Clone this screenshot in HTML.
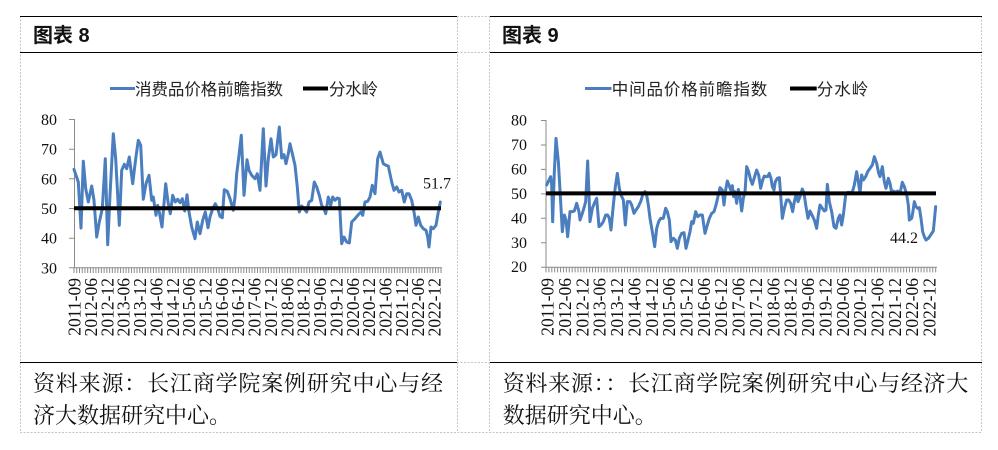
<!DOCTYPE html>
<html><head><meta charset="utf-8"><style>
html,body{margin:0;padding:0;background:#fff;}
svg{display:block;}
.ax{font-family:"Liberation Serif","Noto Serif CJK SC",serif;font-size:16px;fill:#111;}
.xl{font-family:"Liberation Serif",serif;font-size:17.5px;fill:#111;}
.lg{font-family:"Liberation Sans","Noto Sans CJK SC",sans-serif;font-size:16.5px;fill:#222;}
.hd{font-family:"Liberation Sans","Noto Sans CJK SC",sans-serif;font-size:20px;font-weight:bold;fill:#111;}
.src{font-family:"Liberation Serif","Noto Serif CJK SC",serif;font-size:22px;fill:#111;}
</style></head><body>
<svg width="998" height="450" viewBox="0 0 998 450" xmlns="http://www.w3.org/2000/svg">
<rect width="998" height="450" fill="#fff"/>
<!-- dashed grid -->
<g stroke="#c4c4c4" stroke-width="1" stroke-dasharray="2,1.5" fill="none">
<line x1="20.5" y1="16" x2="20.5" y2="432"/>
<line x1="457.5" y1="16" x2="457.5" y2="432"/>
<line x1="489.5" y1="16" x2="489.5" y2="432"/>
<line x1="981.5" y1="16" x2="981.5" y2="432"/>
<line x1="457" y1="16.5" x2="490" y2="16.5"/>
<line x1="457" y1="52.5" x2="490" y2="52.5"/>
<line x1="457" y1="362.5" x2="490" y2="362.5"/>
<line x1="20" y1="432.5" x2="982" y2="432.5"/>
</g>
<g stroke="#000" stroke-width="1">
<line x1="20" y1="16.5" x2="457" y2="16.5"/>
<line x1="490" y1="16.5" x2="982" y2="16.5"/>
<line x1="20" y1="52.5" x2="457" y2="52.5"/>
<line x1="490" y1="52.5" x2="982" y2="52.5"/>
<line x1="20" y1="362.5" x2="457" y2="362.5"/>
<line x1="490" y1="362.5" x2="982" y2="362.5"/>
</g>
<!-- headers -->
<text class="hd" x="33" y="42">图表 8</text>
<text class="hd" x="502" y="42">图表 9</text>

<!-- ===== LEFT CHART ===== -->
<line x1="110" y1="88.5" x2="135" y2="88.5" stroke="#4a7ebf" stroke-width="3"/>
<text class="lg" x="135" y="95" textLength="148" lengthAdjust="spacing">消费品价格前瞻指数</text>
<line x1="303" y1="88.5" x2="328" y2="88.5" stroke="#000" stroke-width="4"/>
<text class="lg" x="329" y="95" textLength="49" lengthAdjust="spacing">分水岭</text>

<g stroke="#8a8a8a" stroke-width="1" fill="none">
<line x1="74.5" y1="119" x2="74.5" y2="267.8"/>
<line x1="74" y1="267.8" x2="442" y2="267.8"/>
<path d="M69,119.5h5M69,149.2h5M69,178.8h5M69,208.5h5M69,238.2h5M69,267.8h5"/>
<line x1="73.5" y1="270.5" x2="442" y2="270.5" stroke-width="5" stroke-dasharray="1 1.7388"/>
</g>
<g class="ax" text-anchor="end">
<text x="57" y="125">80</text>
<text x="57" y="154.7">70</text>
<text x="57" y="184.3">60</text>
<text x="57" y="214">50</text>
<text x="57" y="243.7">40</text>
<text x="57" y="273.3">30</text>
</g>
<g class="xl" text-anchor="end">
<text transform="translate(80.6,278) rotate(-90)">2011-09</text>
<text transform="translate(96.96,278) rotate(-90)">2012-06</text>
<text transform="translate(113.33,278) rotate(-90)">2012-12</text>
<text transform="translate(129.69,278) rotate(-90)">2013-06</text>
<text transform="translate(146.06,278) rotate(-90)">2013-12</text>
<text transform="translate(162.42,278) rotate(-90)">2014-06</text>
<text transform="translate(178.78,278) rotate(-90)">2014-12</text>
<text transform="translate(195.15,278) rotate(-90)">2015-06</text>
<text transform="translate(211.51,278) rotate(-90)">2015-12</text>
<text transform="translate(227.88,278) rotate(-90)">2016-06</text>
<text transform="translate(244.24,278) rotate(-90)">2016-12</text>
<text transform="translate(260.6,278) rotate(-90)">2017-06</text>
<text transform="translate(276.97,278) rotate(-90)">2017-12</text>
<text transform="translate(293.33,278) rotate(-90)">2018-06</text>
<text transform="translate(309.7,278) rotate(-90)">2018-12</text>
<text transform="translate(326.06,278) rotate(-90)">2019-06</text>
<text transform="translate(342.42,278) rotate(-90)">2019-12</text>
<text transform="translate(358.79,278) rotate(-90)">2020-06</text>
<text transform="translate(375.15,278) rotate(-90)">2020-12</text>
<text transform="translate(391.52,278) rotate(-90)">2021-06</text>
<text transform="translate(407.88,278) rotate(-90)">2021-12</text>
<text transform="translate(424.24,278) rotate(-90)">2022-06</text>
<text transform="translate(440.61,278) rotate(-90)">2022-12</text>
</g>
<polyline fill="none" stroke="#4a7ebf" stroke-width="3" stroke-linejoin="round" stroke-linecap="round" points="74,169.3 78.3,182 81,228 83.3,161.3 85.7,188.7 88.3,202 91.7,186 94,200.3 96.7,237 99.3,222 102.3,208.7 105.3,158.7 107.7,244.7 110,195.3 113.3,133.7 115.7,158.7 119.3,225.3 121.7,170.3 124.3,164.3 126.7,168.7 129.3,157 132.7,183.7 135.7,158.7 138.3,140.3 140.7,145.3 143.3,199.3 146,183.7 149,175.3 151.7,200.3 153.3,197 156,215.3 157.7,205.3 159.3,212 162,227 165.7,183.7 168,202 170.3,213.7 172.7,195.3 175.3,202 177.7,199.3 180,202.7 182.3,198.7 184.7,211 187,194.7 189,212 191.7,227 195,238.7 197.3,222 200,233.7 202.7,220.3 205.3,212 208,227.7 210,217 212.7,208.7 215.3,203.7 217.7,208.7 220,216.3 222.3,217.7 224.3,189.7 227.3,191.3 230,198.7 233.3,210.3 235,197 236.7,173.7 239,155.3 241.3,135.3 244,195.3 247,159.7 249,170.3 251.7,175.3 255,178.7 257.3,173.7 260,190.3 263.3,128.7 266,186 268.3,158.7 271,138.7 273.3,157 276,154.7 279.3,127 281.7,158 284,154.7 286,163.7 288.3,153.7 290,143.7 292.7,155.3 295,165.3 297.3,187 299.3,212 301.7,206 304,208.7 306.7,212 309,202 311.7,200.3 314.3,182 316.7,187 319.3,195.3 321.7,205.3 324,208.7 325.7,213.7 328.3,197 330.7,205.3 332.7,197 335,200.3 337.3,198 339.3,198.7 341.7,243.7 344,237 346.7,242 349.3,243 351.7,222 355,218.7 358.3,214.7 361,212 362.7,215.3 365,202 367.7,201.3 370,197 372.3,185.3 375,193.7 377.7,158.7 380,152 383.3,163.7 386,165.3 388.3,166 391.7,182 394,190.3 396.7,187 399,192 401.7,190.3 404.3,202 406.7,193.7 409,193.7 411.7,200.3 414.3,213.7 416,225.3 418.3,217 420.7,225.3 423.3,228.7 426,230.3 427.7,237 429,247 431,227 433.3,228.7 436,225.3 438.3,212 440.3,202"/>
<line x1="74" y1="208.3" x2="441" y2="208.3" stroke="#000" stroke-width="4"/>
<text class="ax" x="423" y="188.5">51.7</text>

<!-- ===== RIGHT CHART ===== -->
<line x1="585" y1="88.5" x2="611.5" y2="88.5" stroke="#4a7ebf" stroke-width="3"/>
<text class="lg" x="611.7" y="95" textLength="155.6" lengthAdjust="spacing">中间品价格前瞻指数</text>
<line x1="790" y1="88.5" x2="816.7" y2="88.5" stroke="#000" stroke-width="4"/>
<text class="lg" x="816.7" y="95" textLength="51.6" lengthAdjust="spacing">分水岭</text>

<g stroke="#8a8a8a" stroke-width="1" fill="none">
<line x1="546" y1="120" x2="546" y2="267.2"/>
<line x1="546" y1="267.2" x2="937" y2="267.2"/>
<path d="M541,120.5h5M541,144.95h5M541,169.4h5M541,193.85h5M541,218.3h5M541,242.75h5M541,267.2h5"/>
<line x1="545.5" y1="269.9" x2="937" y2="269.9" stroke-width="5" stroke-dasharray="1 1.908"/>
</g>
<g class="ax" text-anchor="end">
<text x="527" y="125.5">80</text>
<text x="527" y="149.95">70</text>
<text x="527" y="174.4">60</text>
<text x="527" y="198.85">50</text>
<text x="527" y="223.3">40</text>
<text x="527" y="247.75">30</text>
<text x="527" y="272.2">20</text>
</g>
<g class="xl" text-anchor="end">
<text transform="translate(553.6,278) rotate(-90)">2011-09</text>
<text transform="translate(570.96,278) rotate(-90)">2012-06</text>
<text transform="translate(588.33,278) rotate(-90)">2012-12</text>
<text transform="translate(605.69,278) rotate(-90)">2013-06</text>
<text transform="translate(623.06,278) rotate(-90)">2013-12</text>
<text transform="translate(640.42,278) rotate(-90)">2014-06</text>
<text transform="translate(657.78,278) rotate(-90)">2014-12</text>
<text transform="translate(675.15,278) rotate(-90)">2015-06</text>
<text transform="translate(692.51,278) rotate(-90)">2015-12</text>
<text transform="translate(709.88,278) rotate(-90)">2016-06</text>
<text transform="translate(727.24,278) rotate(-90)">2016-12</text>
<text transform="translate(744.6,278) rotate(-90)">2017-06</text>
<text transform="translate(761.97,278) rotate(-90)">2017-12</text>
<text transform="translate(779.33,278) rotate(-90)">2018-06</text>
<text transform="translate(796.7,278) rotate(-90)">2018-12</text>
<text transform="translate(814.06,278) rotate(-90)">2019-06</text>
<text transform="translate(831.42,278) rotate(-90)">2019-12</text>
<text transform="translate(848.79,278) rotate(-90)">2020-06</text>
<text transform="translate(866.15,278) rotate(-90)">2020-12</text>
<text transform="translate(883.52,278) rotate(-90)">2021-06</text>
<text transform="translate(900.88,278) rotate(-90)">2021-12</text>
<text transform="translate(918.24,278) rotate(-90)">2022-06</text>
<text transform="translate(935.61,278) rotate(-90)">2022-12</text>
</g>
<g transform="translate(520,105) scale(0.33333)">
<polyline fill="none" stroke="#4a7ebf" stroke-width="9" stroke-linejoin="round" stroke-linecap="round" points="80,240 87,225 92,215 95,240 98,350 103,200 108,100 115,170 120,255 127,380 133,330 138,345 143,395 150,320 157,320 163,318 170,295 177,320 180,345 187,325 193,305 197,290 203,168 210,350 217,310 223,295 230,280 237,365 243,360 250,350 257,330 263,330 268,340 273,375 280,300 286,245 292,205 298,250 303,270 310,285 316,360 322,290 330,290 335,300 342,325 348,315 355,305 362,290 368,270 375,260 380,270 385,300 390,340 397,380 404,425 410,370 416,350 422,340 430,340 437,310 442,320 448,345 453,410 460,400 466,405 472,430 478,400 485,385 492,383 498,430 503,410 510,380 515,350 520,355 527,320 533,335 540,330 547,330 555,385 562,360 568,340 575,325 582,320 588,300 595,270 600,248 607,255 612,300 617,255 622,228 627,240 632,255 637,242 641,275 645,260 650,295 655,253 660,275 665,318 670,280 675,262 680,185 686,200 692,225 697,238 703,218 710,195 716,210 722,250 728,225 733,213 738,215 743,215 748,205 753,220 757,245 762,255 766,230 772,220 778,218 782,270 787,340 793,310 800,285 806,285 812,295 818,320 823,290 829,265 834,290 840,275 847,252 852,265 858,305 864,340 870,318 876,330 883,345 890,370 895,330 900,300 907,310 913,318 918,315 922,238 928,290 935,320 942,365 948,370 955,340 960,330 965,360 970,330 977,270 983,262 990,262 996,265 1003,240 1010,200 1015,230 1020,265 1025,210 1030,225 1037,215 1043,200 1050,190 1057,180 1063,155 1070,175 1076,205 1080,215 1087,185 1093,230 1098,250 1105,220 1110,235 1115,262 1120,258 1127,262 1133,258 1140,265 1147,232 1153,245 1160,268 1165,300 1168,345 1175,340 1178,325 1183,290 1188,305 1193,310 1198,308 1203,340 1208,380 1213,395 1218,405 1225,400 1232,390 1240,378 1247,305"/>
</g>
<line x1="546" y1="193.4" x2="936" y2="193.4" stroke="#000" stroke-width="4"/>
<text class="ax" x="890" y="243">44.2</text>

<!-- sources -->
<text class="src" x="33" y="391" textLength="410" lengthAdjust="spacing">资料来源：长江商学院案例研究中心与经</text>
<text class="src" x="33" y="423">济大数据研究中心。</text>
<text class="src" x="502.7" y="391" textLength="465.6" lengthAdjust="spacing">资料来源：：长江商学院案例研究中心与经济大</text>
<text class="src" x="502.7" y="423">数据研究中心。</text>
</svg>
</body></html>
